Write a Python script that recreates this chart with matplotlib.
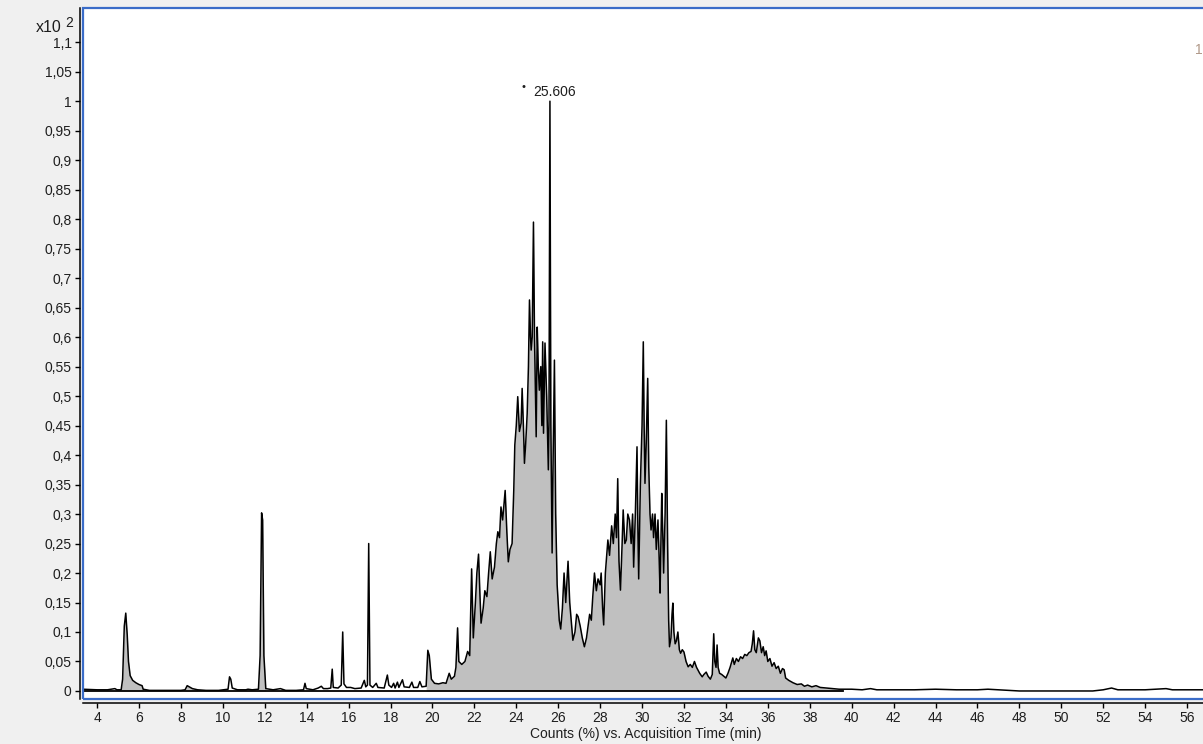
import numpy as np
import matplotlib
matplotlib.use("Agg")
import matplotlib.pyplot as plt
from matplotlib.patches import Rectangle

plt.rcParams['font.family'] = ['Liberation Sans', 'DejaVu Sans']

# total ion chromatogram, retention time (min) and counts (x10^2 %)
rt_min = [
    3.3, 4.0, 4.5, 4.85, 4.95, 5.15, 5.22, 5.3, 5.37, 5.44, 5.5, 5.58, 5.7, 5.85, 6.0, 6.15, 6.2,
    6.5, 7.0, 7.5, 8.0, 8.2, 8.3, 8.4, 8.55, 8.8, 9.2, 9.8, 10.25, 10.32, 10.38, 10.45, 10.7,
    11.1, 11.2, 11.4, 11.7, 11.78, 11.85, 11.9, 11.96, 12.05, 12.4, 12.75, 13.0, 13.5,
    13.85, 13.92, 13.98, 14.3, 14.55, 14.7, 14.8, 15.0, 15.15, 15.22, 15.27, 15.5, 15.65,
    15.72, 15.78, 15.9, 16.1, 16.3, 16.6, 16.75, 16.82, 16.9, 16.96, 17.02, 17.15, 17.32,
    17.4, 17.7, 17.85, 17.92, 18.05, 18.15, 18.22, 18.33, 18.4, 18.57, 18.65, 18.9, 19.02,
    19.1, 19.3, 19.4, 19.5, 19.7, 19.78, 19.85, 19.95, 20.1, 20.3, 20.5, 20.65, 20.8, 20.9,
    21.05, 21.12, 21.2, 21.26, 21.4, 21.55, 21.68, 21.78, 21.87, 21.95, 22.05, 22.12, 22.2,
    22.27, 22.32, 22.42, 22.5, 22.6, 22.68, 22.76, 22.85, 22.96, 23.05, 23.12, 23.2, 23.27,
    23.35, 23.47, 23.55, 23.62, 23.7, 23.8, 23.88, 23.93, 24.0, 24.07, 24.15, 24.23, 24.28,
    24.34, 24.39, 24.45, 24.52, 24.58, 24.63, 24.68, 24.71, 24.76, 24.82, 24.87, 24.95, 25.0,
    25.05, 25.1, 25.17, 25.22, 25.26, 25.3, 25.37, 25.45, 25.53, 25.56, 25.606, 25.65, 25.71,
    25.76, 25.82, 25.88, 25.95, 26.05, 26.12, 26.2, 26.28, 26.36, 26.47, 26.55, 26.62, 26.7,
    26.8, 26.88, 26.95, 27.05, 27.15, 27.25, 27.35, 27.5, 27.58, 27.65, 27.73, 27.82, 27.9,
    28.0, 28.05, 28.12, 28.17, 28.25, 28.37, 28.45, 28.55, 28.63, 28.72, 28.78, 28.84, 28.9,
    28.97, 29.05, 29.1, 29.18, 29.25, 29.32, 29.4, 29.48, 29.55, 29.6, 29.68, 29.76, 29.8,
    29.84, 29.92, 30.0, 30.06, 30.1, 30.14, 30.2, 30.27, 30.32, 30.38, 30.43, 30.5, 30.55,
    30.62, 30.68, 30.76, 30.82, 30.86, 30.9, 30.94, 30.98, 31.03, 31.1, 31.16, 31.22, 31.27,
    31.31, 31.38, 31.43, 31.47, 31.52, 31.58, 31.64, 31.71, 31.78, 31.84, 31.92, 32.0, 32.1,
    32.2, 32.3, 32.4, 32.5, 32.6, 32.75, 32.87, 32.95, 33.06, 33.15, 33.26, 33.35, 33.42,
    33.47, 33.53, 33.58, 33.63, 33.7, 33.8, 33.9, 34.0, 34.1, 34.2, 34.33, 34.4, 34.5, 34.6,
    34.7, 34.8, 34.9, 35.0, 35.1, 35.2, 35.26, 35.32, 35.38, 35.45, 35.55, 35.62, 35.7, 35.78,
    35.85, 35.92, 36.0, 36.1, 36.2, 36.3, 36.4, 36.5, 36.6, 36.7, 36.78, 36.85, 37.0, 37.2,
    37.4, 37.6, 37.75, 37.9, 38.1, 38.3, 38.5, 38.8, 39.1, 39.4, 39.6, 40.0, 40.5, 40.9, 41.2,
    42.0, 43.0, 44.0, 45.0, 46.0, 46.5, 47.0, 48.0, 51.5, 52.0, 52.4, 52.7, 53.5, 54.0, 55.0,
    55.3, 56.0, 57.0,
]
counts = [
    0.003, 0.002, 0.002, 0.004, 0.002, 0.002, 0.02, 0.11, 0.132, 0.095, 0.05, 0.026, 0.018, 0.014, 0.011, 0.009, 0.003,
    0.001, 0.001, 0.001, 0.001, 0.002, 0.009, 0.007, 0.004, 0.002, 0.001, 0.001, 0.003, 0.024, 0.02, 0.005, 0.002,
    0.002, 0.003, 0.002, 0.003, 0.06, 0.302, 0.29, 0.06, 0.004, 0.002, 0.004, 0.001, 0.001,
    0.002, 0.013, 0.004, 0.002, 0.005, 0.008, 0.004, 0.004, 0.005, 0.037, 0.006, 0.005, 0.01,
    0.1, 0.012, 0.006, 0.006, 0.004, 0.005, 0.018, 0.007, 0.01, 0.25, 0.01, 0.006, 0.013,
    0.006, 0.005, 0.027, 0.01, 0.006, 0.013, 0.005, 0.015, 0.006, 0.019, 0.007, 0.006, 0.015,
    0.006, 0.006, 0.016, 0.007, 0.008, 0.069, 0.06, 0.02, 0.013, 0.012, 0.014, 0.013, 0.03, 0.02,
    0.025, 0.04, 0.107, 0.05, 0.045, 0.05, 0.067, 0.06, 0.207, 0.09, 0.15, 0.2, 0.232,
    0.16, 0.115, 0.14, 0.17, 0.16, 0.2, 0.236, 0.19, 0.21, 0.25, 0.27, 0.26, 0.312,
    0.29, 0.34, 0.27, 0.219, 0.24, 0.25, 0.34, 0.417, 0.45, 0.499, 0.44, 0.454, 0.513,
    0.45, 0.386, 0.42, 0.47, 0.55, 0.663, 0.6, 0.578, 0.6, 0.795, 0.6, 0.431, 0.617,
    0.55, 0.51, 0.55, 0.45, 0.592, 0.437, 0.59, 0.5, 0.375, 0.45, 1.0, 0.45, 0.234,
    0.4, 0.561, 0.3, 0.18, 0.12, 0.105, 0.14, 0.2, 0.15, 0.22, 0.15, 0.12, 0.086,
    0.1, 0.13, 0.126, 0.11, 0.09, 0.075, 0.09, 0.13, 0.12, 0.16, 0.2, 0.17, 0.19,
    0.18, 0.2, 0.14, 0.112, 0.2, 0.256, 0.23, 0.28, 0.25, 0.3, 0.26, 0.36, 0.22,
    0.171, 0.25, 0.307, 0.25, 0.256, 0.3, 0.29, 0.25, 0.3, 0.21, 0.3, 0.414, 0.28,
    0.19, 0.35, 0.45, 0.592, 0.45, 0.352, 0.42, 0.53, 0.38, 0.3, 0.273, 0.3, 0.26,
    0.3, 0.24, 0.29, 0.22, 0.166, 0.25, 0.335, 0.28, 0.2, 0.3, 0.459, 0.25, 0.12,
    0.075, 0.09, 0.13, 0.149, 0.1, 0.08, 0.085, 0.1, 0.07, 0.064, 0.07, 0.066, 0.05,
    0.041, 0.045, 0.04, 0.05, 0.04, 0.03, 0.024, 0.028, 0.032, 0.025, 0.02, 0.028, 0.097,
    0.05, 0.04, 0.078, 0.04, 0.03, 0.028, 0.025, 0.022, 0.03, 0.04, 0.056, 0.045, 0.055, 0.05,
    0.058, 0.055, 0.062, 0.06, 0.065, 0.067, 0.08, 0.102, 0.07, 0.065, 0.09, 0.085, 0.065, 0.075,
    0.06, 0.068, 0.05, 0.055, 0.042, 0.048, 0.038, 0.042, 0.03, 0.038, 0.036, 0.022, 0.018, 0.014,
    0.011, 0.012, 0.008, 0.01, 0.007, 0.009, 0.006, 0.005, 0.004, 0.003, 0.003, 0.003, 0.002, 0.004, 0.002,
    0.002, 0.002, 0.003, 0.002, 0.002, 0.003, 0.002, 0.0, 0.0, 0.002, 0.005, 0.002, 0.002, 0.002, 0.004,
    0.002, 0.002, 0.002,
]

# integrated windows (shaded grey)
fill_windows = [(5.15, 6.2), (8.2, 8.8), (11.7, 12.05), (19.7, 39.6)]
peak_rt = 25.606
peak_label = '25.606'

t = np.array(rt_min)
y = np.array(counts)

fig = plt.figure(figsize=(12.03, 7.44), dpi=100, facecolor='#f0f0f0')
ax = fig.add_axes([83 / 1203, 45 / 744, 1125 / 1203, 691 / 744])
ax.set_facecolor('white')

for a, b in fill_windows:
    m = (t >= a) & (t <= b)
    ax.fill_between(t[m], y[m], 0, color='#c0c0c0', lw=0)
ax.plot([t[0], fill_windows[-1][1]], [0, 0], color='black', lw=1.3)
ax.plot(t, y, color='black', lw=1.1)

ax.set_xlim(3.33, 57.0)
ax.set_ylim(-0.0136, 1.158)

# blue frame around the plot area
ax.add_patch(Rectangle((0, 0), 1, 1, transform=ax.transAxes, fill=False,
                       ec='#3a6cc8', lw=1.6, clip_on=False, zorder=5))
for s in ['top', 'right']:
    ax.spines[s].set_visible(False)
ax.spines['left'].set_position(('outward', 2.3))
ax.spines['bottom'].set_position(('outward', 2.6))
ax.spines['left'].set_linewidth(1.1)
ax.spines['bottom'].set_linewidth(1.1)

yt = np.round(np.arange(0, 1.1001, 0.05), 2)
ax.set_yticks(yt)
ax.set_yticklabels([('%g' % v).replace('.', ',') for v in yt])
ax.set_xticks(range(4, 57, 2))
ax.tick_params(axis='both', direction='out', length=3.6, width=1.0,
               labelsize=10, labelcolor='#1e1e1e')
ax.tick_params(axis='y', pad=2.2)
ax.tick_params(axis='x', pad=2.2)
ax.set_xlabel('Counts (%) vs. Acquisition Time (min)', fontsize=10,
              color='#1e1e1e', labelpad=1.5)

ax.annotate(peak_label, xy=(peak_rt, 1.0), xytext=(5, 9), textcoords='offset pixels',
            ha='center', va='center', fontsize=10, color='#1e1e1e')
ax.annotate('•', xy=(peak_rt, 1.0), xytext=(-26, 14), textcoords='offset pixels',
            ha='center', va='center', fontsize=8, color='#1e1e1e')

fig.text(36 / 1203, 1 - 28 / 744, 'x10', fontsize=11.5, color='#1e1e1e', va='center')
fig.text(65 / 1203, 1 - 23 / 744, '2', fontsize=10, color='#1e1e1e', va='center')
fig.text(1195 / 1203, 1 - 50 / 744, '1', fontsize=10, color='#b09888', va='center')

fig.savefig('out.png', dpi=100, facecolor=fig.get_facecolor())
